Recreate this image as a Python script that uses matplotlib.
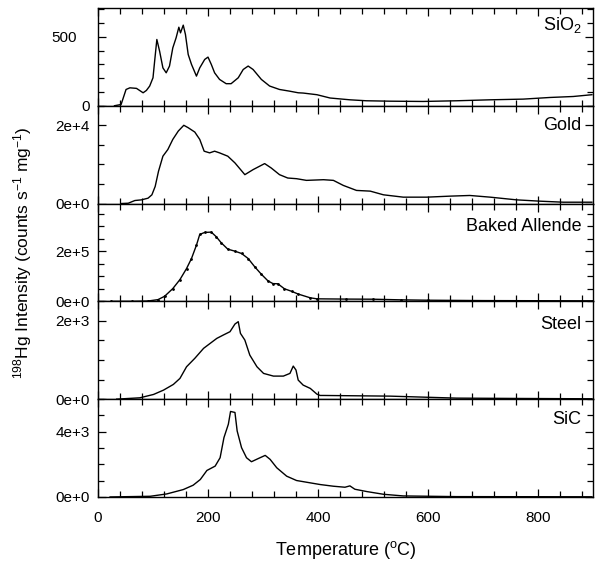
import numpy as np
import matplotlib.pyplot as plt
from matplotlib.ticker import MultipleLocator, FixedLocator, FuncFormatter

plt.rcParams['font.family'] = ['Liberation Sans', 'DejaVu Sans']
plt.rcParams['mathtext.default'] = 'regular'

# release curves, temperature in deg C
sio2_t = [30, 42, 51, 58, 70, 82, 88, 94, 100, 103, 107, 112, 118, 124, 130, 136, 142, 147, 150,
          155, 159, 164, 170, 179, 185, 194, 200, 206, 212, 221, 233, 242, 255, 264, 273, 282,
          297, 312, 330, 348, 364, 373, 398, 422, 458, 488, 531, 591, 652, 713, 773, 822, 864, 898]
sio2_v = [0, 9, 118, 130, 126, 94, 111, 143, 203, 324, 481, 396, 275, 239, 288, 420, 493, 570, 529,
          585, 517, 372, 300, 215, 275, 336, 353, 300, 239, 191, 160, 160, 203, 263, 288, 263,
          191, 143, 118, 106, 94, 92, 80, 56, 43, 36, 33, 31, 36, 43, 48, 60, 67, 80]

gold_t = [42, 55, 67, 79, 91, 98, 104, 110, 118, 127, 136, 146, 156, 164, 176, 185, 193, 203, 212,
          221, 236, 249, 267, 282, 303, 315, 330, 345, 361, 379, 410, 428, 446, 470, 495, 519, 555,
          598, 640, 676, 713, 761, 804, 846, 898]
gold_v = [0, 80, 770, 940, 1370, 2230, 4380, 8240, 12100, 13810, 16390, 18530, 20000, 19380,
          18270, 16390, 13380, 12950, 13380, 12950, 12100, 10380, 7380, 8670, 10210, 9080, 7380,
          6520, 6350, 5920, 6090, 5920, 4630, 3350, 3170, 2230, 1630, 1630, 1890, 2060, 1630, 940,
          600, 340, 340]

allende_t = [24, 61, 91, 109, 121, 136, 149, 161, 170, 179, 185, 194, 206, 215, 224, 236, 249,
             261, 273, 285, 297, 309, 318, 327, 339, 352, 364, 386, 398, 450, 500, 550, 600, 700,
             800, 900]
allende_v = [0, 0, 1300, 6800, 20000, 50800, 86800, 130800, 170800, 224000, 266800, 274800,
             276000, 257600, 233600, 208000, 200000, 190800, 170800, 137600, 108000, 81600, 70800,
             70000, 50000, 40000, 29000, 14000, 10000, 9000, 8500, 6000, 4500, 3000, 2500, 2000]

steel_t = [34, 76, 101, 119, 137, 149, 161, 176, 192, 204, 216, 228, 240, 249, 255, 259, 267, 276,
           289, 301, 319, 337, 349, 355, 360, 364, 373, 386, 398, 404, 410, 531, 592, 652, 773, 898]
steel_v = [0, 34, 120, 230, 376, 530, 828, 1043, 1299, 1426, 1553, 1640, 1724, 1920, 1980, 1681,
           1510, 1126, 828, 658, 589, 589, 658, 845, 743, 487, 359, 274, 128, 94, 94, 77, 51, 26,
           17, 9]

sic_t = [22, 95, 125, 155, 173, 186, 198, 213, 222, 229, 237, 241, 249, 253, 261, 270, 279, 292,
         304, 313, 325, 343, 361, 386, 404, 428, 449, 458, 467, 489, 519, 555, 652, 898]
sic_v = [0, 41, 185, 452, 720, 1070, 1625, 1892, 2406, 3640, 4461, 5245, 5183, 4050, 3023, 2406,
         2160, 2365, 2550, 2303, 1790, 1275, 1008, 864, 761, 658, 596, 679, 473, 329, 164, 62, 20,
         10]

names = ['SiO$_2$', 'Gold', 'Baked Allende', 'Steel', 'SiC']
temps = [sio2_t, gold_t, allende_t, steel_t, sic_t]
counts = [sio2_v, gold_v, allende_v, steel_v, sic_v]
y_top = [710, 25000, 3.9e5, 2500, 6000]
y_major = [[0, 500], [0, 2e4], [0, 2e5], [0, 2e3], [0, 4e3]]
y_minor = [100, 5000, 5e4, 500, 1000]
label_y = [0.83, 0.795, 0.77, 0.76, 0.795]


def sci_fmt(v, pos):
    if v == 0:
        return '0e+0'
    e = int(np.floor(np.log10(abs(v))))
    return '%de+%d' % (round(v / 10 ** e), e)


fig = plt.figure(figsize=(5.99, 5.66), dpi=100)
gs = fig.add_gridspec(5, 1, left=0.1636, right=0.99, top=0.986, bottom=0.122, hspace=0)

for i in range(5):
    ax = fig.add_subplot(gs[i])
    ax.plot(temps[i], counts[i], color='k', lw=1.0,
            marker='o' if i == 2 else None, ms=1.0)
    ax.set_xlim(0, 900)
    ax.set_ylim(0, y_top[i])
    ax.xaxis.set_major_locator(MultipleLocator(200))
    ax.xaxis.set_minor_locator(MultipleLocator(40))
    ax.yaxis.set_major_locator(FixedLocator(y_major[i]))
    ax.yaxis.set_minor_locator(MultipleLocator(y_minor[i]))
    if i == 0:
        ax.yaxis.set_major_formatter(FuncFormatter(lambda v, p: '%d' % v))
    else:
        ax.yaxis.set_major_formatter(FuncFormatter(sci_fmt))
    ax.tick_params(which='both', direction='in', top=True, right=True, labelsize=11, width=0.9)
    ax.tick_params(which='major', length=6)
    ax.tick_params(which='minor', length=4)
    ax.tick_params(axis='y', pad=6)
    ax.tick_params(axis='x', pad=10)
    if i < 4:
        ax.tick_params(axis='x', labelbottom=False)
    for s in ax.spines.values():
        s.set_linewidth(1.0)
    ax.text(0.976, label_y[i], names[i], transform=ax.transAxes, ha='right', va='center',
            fontsize=13)
    if i == 0:
        # the 500 label sits a little left of the 0 label
        ax.yaxis.get_major_ticks()[1].label1.set_x(-0.025)

ax.set_xlabel('Temperature ($^{o}$C)', fontsize=13, labelpad=10)
fig.text(0.037, 0.554, '$^{198}$Hg Intensity (counts s$^{-1}$ mg$^{-1}$)', rotation=90,
         ha='center', va='center', fontsize=12.5)

fig.savefig('out.png', dpi=100)
